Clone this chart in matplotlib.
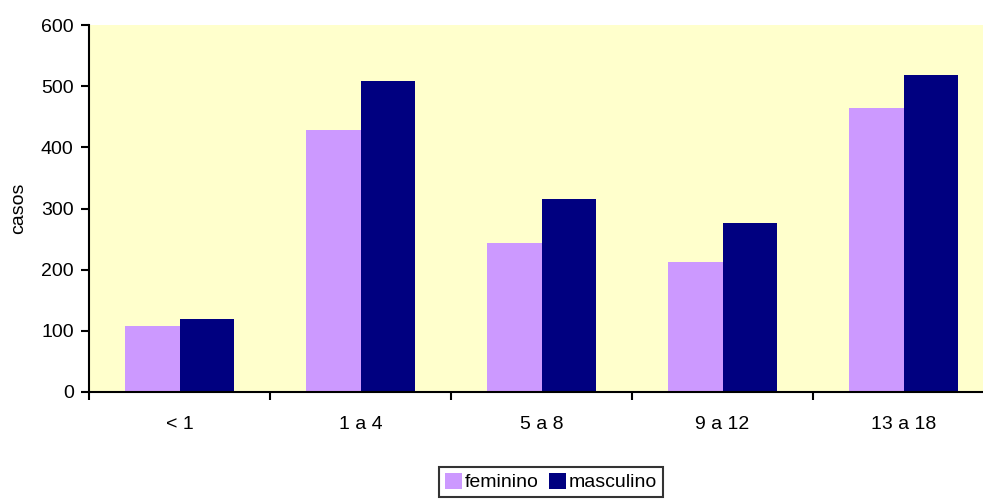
import matplotlib
matplotlib.use("Agg")
import matplotlib.pyplot as plt
import numpy as np
from matplotlib.patches import Patch

categories = ["< 1", "1 a 4", "5 a 8", "9 a 12", "13 a 18"]
feminino = [108, 428, 244, 212, 465]
masculino = [120, 509, 316, 276, 519]
yticks = [0, 100, 200, 300, 400, 500, 600]

plt.rcParams['font.family'] = ['Liberation Sans', 'DejaVu Sans']
FS = 14

W, H = 983, 503
fig = plt.figure(figsize=(W/100, H/100), dpi=100)
x0, x1 = 89, 994
y0, y1 = 25, 392
ax = fig.add_axes([x0/W, 1 - y1/H, (x1 - x0)/W, (y1 - y0)/H])
ax.set_facecolor('#FFFFCC')

x = np.arange(len(categories))
bw = 0.3
ax.bar(x - bw/2, feminino, width=bw, color='#CC99FF', zorder=2)
ax.bar(x + bw/2, masculino, width=bw, color='#000080', zorder=2)

ax.set_xlim(-0.5, len(categories) - 0.5)
ax.set_ylim(0, 600)
ax.set_yticks(yticks)
ax.set_xticks(np.arange(len(categories) + 1) - 0.5)
ax.set_xticklabels([])
ax.set_xticks(x, minor=True)
ax.set_xticklabels(categories, minor=True)
ax.tick_params(axis='x', which='minor', length=0, pad=17, labelsize=FS)
ax.tick_params(axis='x', which='major', length=6, width=1.5, direction='out')
ax.tick_params(axis='y', length=6, width=1.5, direction='out', labelsize=FS, pad=5)

for s in ['top', 'right']:
    ax.spines[s].set_visible(False)
for s in ['left', 'bottom']:
    ax.spines[s].set_linewidth(1.5)
    ax.spines[s].set_zorder(3)

ax.set_ylabel('casos', fontsize=FS)
ax.yaxis.set_label_coords((27 - x0) / (x1 - x0), 0.5)

handles = [Patch(facecolor='#CC99FF', label='feminino'),
           Patch(facecolor='#000080', label='masculino')]
leg = fig.legend(handles=handles, loc='center', bbox_to_anchor=(551/W, 1 - 482/H),
                 ncol=2, fontsize=FS, frameon=True, fancybox=False,
                 edgecolor='black', handlelength=0.9, handleheight=0.9,
                 handletextpad=0.15, columnspacing=0.5, borderpad=0.3,
                 borderaxespad=0)
leg.get_frame().set_linewidth(1.5)

fig.savefig('out.png', dpi=100, facecolor='white')
